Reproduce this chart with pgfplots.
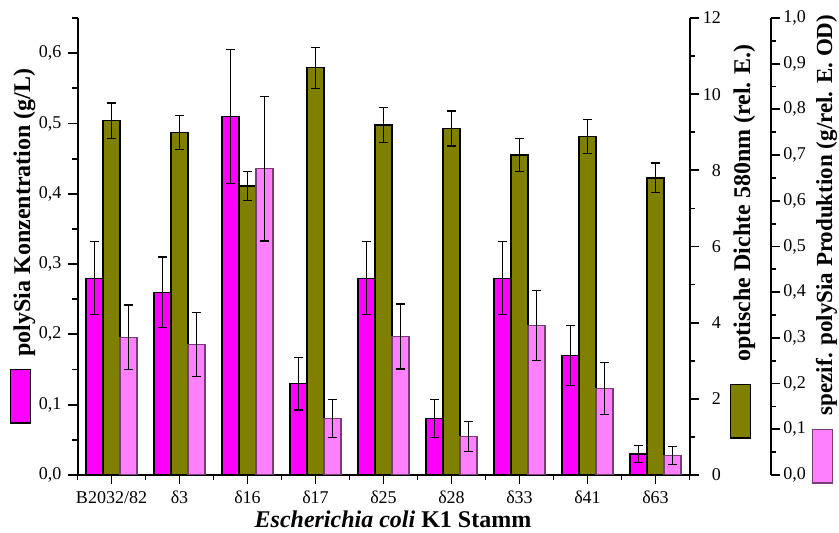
\documentclass[border=0pt]{standalone}
\usepackage{pgfplots}
\pgfplotsset{compat=1.18}
\usepackage{pgfplotstable}
\usepackage{fontspec}
\setmainfont{Liberation Serif}
\definecolor{cMag}{RGB}{255,0,255}
\definecolor{cOli}{RGB}{128,128,0}
\definecolor{cPnk}{RGB}{255,128,255}
\definecolor{cPnkE}{RGB}{120,60,120}

\pgfplotstableread{
x y e
0 0.28 0.052
1 0.26 0.050
2 0.51 0.095
3 0.13 0.0375
4 0.28 0.052
5 0.08 0.027
6 0.28 0.052
7 0.17 0.043
8 0.03 0.012
}\polysia
\pgfplotstableread{
x y e
0 9.30 0.47
1 9.00 0.45
2 7.59 0.38
3 10.69 0.54
4 9.19 0.465
5 9.10 0.46
6 8.40 0.43
7 8.89 0.45
8 7.80 0.39
}\od
\pgfplotstableread{
x y e
0 0.301 0.071
1 0.285 0.070
2 0.670 0.158
3 0.124 0.042
4 0.303 0.071
5 0.084 0.033
6 0.327 0.077
7 0.189 0.057
8 0.043 0.020
}\spez

\newcommand{\swatch}[2]{{\setlength{\fboxsep}{0pt}\setlength{\fboxrule}{0.6pt}\fcolorbox{#1}{#2}{\rule{26pt}{0pt}\rule{0pt}{9.6pt}}}}

\pgfplotsset{
  base/.style={
    scale only axis, width=306pt, height=228.5pt,
    at={(0,0)}, anchor=south west,
    xmin=-0.5, xmax=8.5, ymin=0,
    tick align=outside,
    major tick length=4.5pt, minor tick length=2.5pt,
    every tick/.style={black, line width=0.9pt},
    axis line style={line width=1pt},
    tick label style={font=\fontsize{9}{10}\selectfont},
    /pgf/number format/assume math mode=true,
    label style={font=\fontsize{12}{14}\selectfont\bfseries, inner sep=0pt},
  },
  errs/.style={error bars/.cd, y dir=both, y explicit,
    error bar style={line width=0.6pt, black},
    error mark options={rotate=90, mark size=2.2pt, line width=0.6pt, black}},
}

\begin{document}
\begin{tikzpicture}
\useasboundingbox (-38.75pt,-29pt) rectangle (380.75pt,237.5pt);
% axis 1: polySia concentration
\begin{axis}[base,
  ymax=0.65,
  axis x line*=bottom, axis y line*=left,
  xtick={0,...,8},
  xticklabels={B2032/82,δ3,δ16,δ17,δ25,δ28,δ33,δ41,δ63},
  minor xtick={-0.5,0.5,1.5,2.5,3.5,4.5,5.5,6.5,7.5,8.5},
  ytick={0,0.1,0.2,0.3,0.4,0.5,0.6},
  minor ytick={0.05,0.15,0.25,0.35,0.45,0.55,0.65},
  yticklabel style={/pgf/number format/.cd, fixed, fixed zerofill, precision=1, use comma},
  xlabel={\textit{Escherichia coli} K1 Stamm},
  xlabel style={at={(axis description cs:0.5155,-0.1138)}, anchor=base},
  ylabel={\swatch{black}{cMag}\hspace{6.3pt}polySia Konzentration (g/L)},
  ylabel style={at={(axis description cs:-0.0776,0.1116)}, anchor=base west, rotate=0},
]
\addplot[ybar, bar width=8.5pt, bar shift=0pt, fill=cMag, draw=black, line width=0.6pt, errs]
  table[x expr=\thisrow{x}-0.25, y=y, y error=e]{\polysia};
\end{axis}
% axis 2: optical density
\begin{axis}[base,
  ymax=12,
  axis x line=none, axis y line*=right,
  ytick={0,2,4,6,8,10,12},
  minor ytick={1,3,5,7,9,11},
  yticklabel style={text width=10pt, align=right, inner sep=1pt},
  ylabel={\swatch{black}{cOli}\hspace{11.3pt}optische Dichte 580nm (rel. E.)},
  ylabel style={at={(axis description cs:1.0989,0.0788)}, anchor=base west, rotate=0},
]
\addplot[ybar, bar width=8.5pt, bar shift=0pt, fill=cOli, draw=black, line width=0.6pt, errs]
  table[x=x, y=y, y error=e]{\od};
\end{axis}
% axis 3: specific production
\begin{axis}[base,
  width=346.75pt, xmax=9.698,
  ymax=1,
  axis x line=none, axis y line*=right,
  ytick={0,0.1,0.2,0.3,0.4,0.5,0.6,0.7,0.8,0.9,1.0},
  minor ytick={0.05,0.15,0.25,0.35,0.45,0.55,0.65,0.75,0.85,0.95},
  yticklabel style={inner sep=1.5pt, /pgf/number format/.cd, fixed, fixed zerofill, precision=1, use comma},
  ylabel={\swatch{cPnkE}{cPnk}\hspace{7pt}spezif. polySia Produktion (g/rel. E. OD)},
  ylabel style={at={(axis description cs:1.088,-0.0197)}, anchor=base west, rotate=0, font=\fontsize{11.5}{13}\selectfont\bfseries},
]
\addplot[ybar, bar width=8.5pt, bar shift=0pt, fill=cPnk, draw=cPnkE, line width=0.6pt, errs]
  table[x expr=\thisrow{x}+0.25, y=y, y error=e]{\spez};
\end{axis}
\end{tikzpicture}
\end{document}
